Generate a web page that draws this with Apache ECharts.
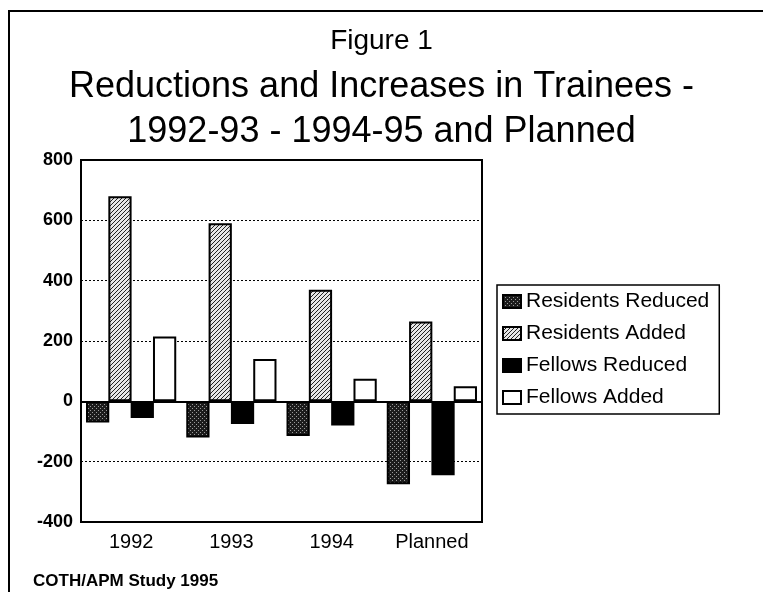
<!DOCTYPE html>
<html>
<head>
<meta charset="utf-8" />
<title>Figure 1</title>
<script src="https://cdn.jsdelivr.net/npm/echarts@6/dist/echarts.min.js"></script>
<style>
  html, body { margin: 0; padding: 0; background: #fff; }
  #main { width: 763px; height: 592px; }
</style>
</head>
<body>
<div id="main"></div>
<script>
// data
var categories = ['1992', '1993', '1994', 'Planned'];
var residentsReduced = [-70, -120, -115, -275];
var residentsAdded = [680, 590, 370, 265];
var fellowsReduced = [-55, -75, -80, -245];
var fellowsAdded = [215, 140, 75, 50];
var yTicks = { min: -400, max: 800, step: 200 };

// fill patterns (scan-like)
function stipple() {
  var c = document.createElement('canvas');
  c.width = 4; c.height = 4;
  var g = c.getContext('2d');
  g.fillStyle = '#1c1c1c';
  g.fillRect(0, 0, 4, 4);
  g.fillStyle = '#9a9a9a';
  g.fillRect(0, 0, 1, 1);
  g.fillRect(2, 2, 1, 1);
  return c;
}
function hatch() {
  var c = document.createElement('canvas');
  c.width = 4; c.height = 4;
  var g = c.getContext('2d');
  g.fillStyle = '#e6e6e6';
  g.fillRect(0, 0, 4, 4);
  g.fillStyle = '#222';
  for (var i = 0; i < 4; i++) g.fillRect(i, 3 - i, 1, 1);
  return c;
}

var barBorder = { borderColor: '#000', borderWidth: 2 };
function bar(name, data, color) {
  return {
    name: name, type: 'bar', data: data,
    barGap: '-4%', barCategoryGap: '10%',
    itemStyle: Object.assign({ color: color }, barBorder)
  };
}

var chart = echarts.init(document.getElementById('main'));
var series = [
  bar('Residents Reduced', residentsReduced, { image: stipple(), repeat: 'repeat' }),
  bar('Residents Added', residentsAdded, { image: hatch(), repeat: 'repeat' }),
  bar('Fellows Reduced', fellowsReduced, '#000'),
  bar('Fellows Added', fellowsAdded, '#fff')
];
// solid line at zero
series[0].markLine = {
  silent: true, symbol: 'none', label: { show: false },
  lineStyle: { color: '#000', type: 'solid', width: 2 },
  data: [{ yAxis: 0 }]
};

var titleFont = { fontSize: 36, fontWeight: 'normal', color: '#000' };
var option = {
  backgroundColor: '#fff',
  animation: false,
  textStyle: { fontFamily: '"Liberation Sans", Arial, sans-serif', color: '#000' },
  title: [
    { text: 'Figure 1', left: 'center', top: 22,
      textStyle: { fontSize: 28, fontWeight: 'normal', color: '#000' } },
    { text: 'Reductions and Increases in Trainees -', left: 'center', top: 64, textStyle: titleFont },
    { text: '1992-93 - 1994-95 and Planned', left: 'center', top: 109, textStyle: titleFont },
    { text: 'COTH/APM Study 1995', left: 28, top: 568,
      textStyle: { fontSize: 17, fontWeight: 'bold', color: '#000' } }
  ],
  graphic: [{
    type: 'rect', silent: true,
    shape: { x: 9, y: 11, width: 800, height: 700 },
    style: { fill: 'none', stroke: '#000', lineWidth: 2 }
  }],
  legend: {
    orient: 'vertical', left: 497, top: 285,
    padding: [6, 10, 6, 5], itemGap: 11,
    itemWidth: 18, itemHeight: 13, icon: 'rect',
    borderColor: '#000', borderWidth: 1.5,
    textStyle: { fontSize: 21, lineHeight: 20, color: '#000' },
    data: series.map(function (s) { return s.name; })
  },
  grid: {
    left: 81, right: 281, top: 160, bottom: 70,
    show: true, borderColor: '#000', borderWidth: 2
  },
  xAxis: {
    type: 'category', data: categories,
    axisLine: { show: false }, axisTick: { show: false },
    axisLabel: { fontSize: 20, color: '#000', margin: 10 }
  },
  yAxis: {
    type: 'value', min: yTicks.min, max: yTicks.max, interval: yTicks.step,
    axisLine: { show: true, lineStyle: { color: '#000', width: 2 } },
    axisTick: { show: false },
    axisLabel: { fontSize: 18, fontWeight: 'bold', color: '#000', margin: 8 },
    splitLine: { show: true, showMinLine: false, showMaxLine: false,
      lineStyle: { color: '#000', type: [2, 2], width: 1 } }
  },
  series: series
};
chart.setOption(option);
</script>
</body>
</html>
